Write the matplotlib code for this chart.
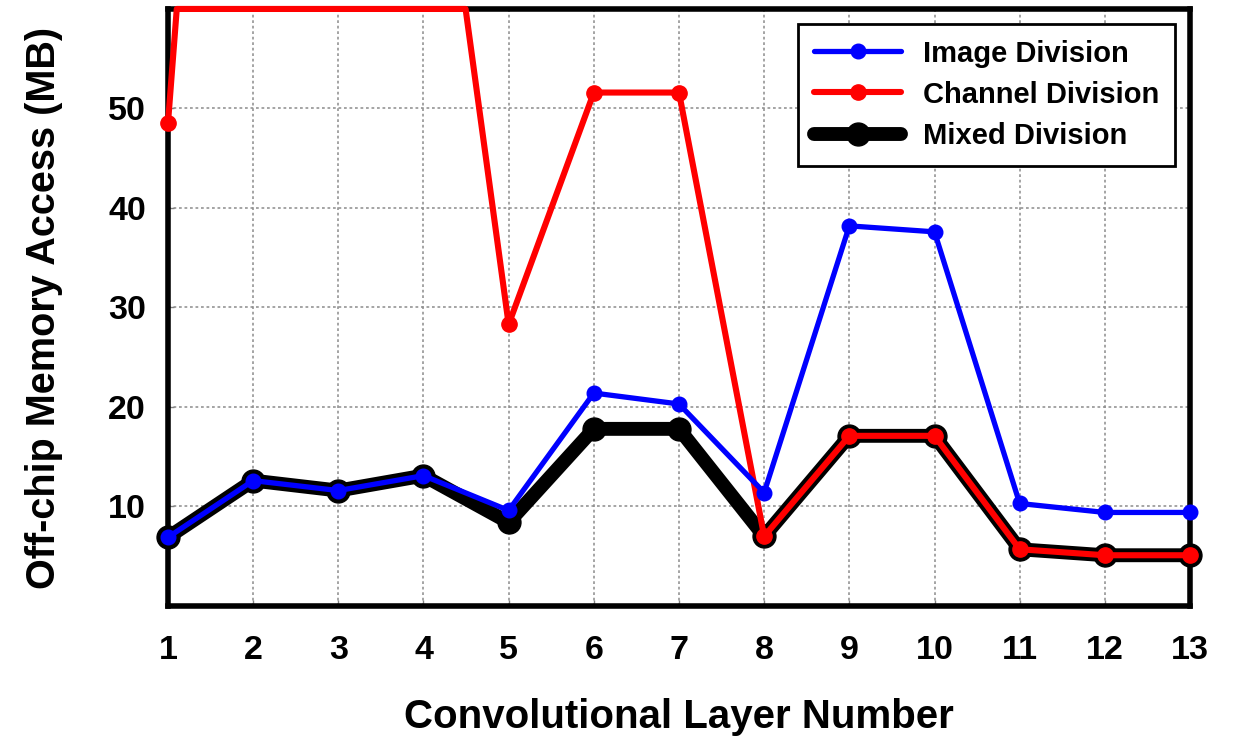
import numpy as np
import matplotlib
matplotlib.use("Agg")
import matplotlib.pyplot as plt

plt.rcParams['font.family'] = ['Liberation Sans', 'DejaVu Sans']
plt.rcParams['font.weight'] = 'bold'

# data
layers = np.arange(1, 14)
image_div = [6.9, 12.6, 11.6, 13.1, 9.6, 21.4, 20.3, 11.4, 38.2, 37.6, 10.3, 9.4, 9.4]
channel_div = [48.5, 160, 130, 91, 28.3, 51.6, 51.6, 7.0, 17.1, 17.1, 5.7, 5.1, 5.1]
mixed_div = [6.9, 12.6, 11.6, 13.1, 8.4, 17.8, 17.8, 7.0, 17.1, 17.1, 5.7, 5.1, 5.1]
y_top = 60
yticks = [10, 20, 30, 40, 50]


def cap_line(x, y, top):
    # squash the part of a line above `top` onto the top edge (like the original plot)
    xs, ys, keep = [x[0]], [min(y[0], top)], [0] if y[0] <= top else []
    for i in range(1, len(x)):
        x0, y0, x1, y1 = x[i - 1], y[i - 1], x[i], y[i]
        if (y0 - top) * (y1 - top) < 0:
            t = (top - y0) / (y1 - y0)
            xs.append(x0 + t * (x1 - x0))
            ys.append(top)
        if y1 <= top:
            keep.append(len(xs))
        xs.append(x1)
        ys.append(min(y1, top))
    return xs, ys, keep


fig = plt.figure(figsize=(12.36, 7.40), dpi=100)
ax = fig.add_axes([0.1359, 0.1811, 0.8269, 0.8068])

style = dict(marker='o', clip_on=False, solid_capstyle='round', solid_joinstyle='round')
ax.plot(layers, mixed_div, color='black', lw=10, ms=16.5,
        label='Mixed Division', zorder=3, **style)
cx, cy, keep = cap_line(layers, channel_div, y_top)
ax.plot(cx, cy, color='red', lw=4.4, ms=11, markevery=keep,
        label='Channel Division', zorder=4, **style)
ax.plot(layers, image_div, color='blue', lw=3.8, ms=10.5,
        label='Image Division', zorder=5, **style)

ax.set_xlim(1, 13)
ax.set_ylim(0, y_top)
ax.set_xticks(layers)
ax.set_yticks(yticks)
ax.grid(True, color='0.55', linestyle=(0, (1.8, 1.8)), lw=1.1)
ax.tick_params(axis='both', direction='in', length=4, width=1, color='0.5',
               labelsize=24.5)
ax.tick_params(axis='x', pad=21)
ax.tick_params(axis='y', pad=16)
for s in ax.spines.values():
    s.set_linewidth(4)

ax.set_xlabel('Convolutional Layer Number', fontsize=29, fontweight='bold', labelpad=23)
ax.set_ylabel('Off-chip Memory Access (MB)', fontsize=28.5, fontweight='bold', labelpad=32)

handles, labels = ax.get_legend_handles_labels()
leg = ax.legend(handles[::-1], labels[::-1], loc='upper right', fontsize=21,
                handlelength=3.0, handletextpad=0.75, labelspacing=0.45,
                borderaxespad=0.5, fancybox=False, edgecolor='black',
                framealpha=1, numpoints=1, borderpad=0.55)
leg.get_frame().set_linewidth(2)
leg.set_zorder(10)

fig.savefig('out.png', dpi=100)
